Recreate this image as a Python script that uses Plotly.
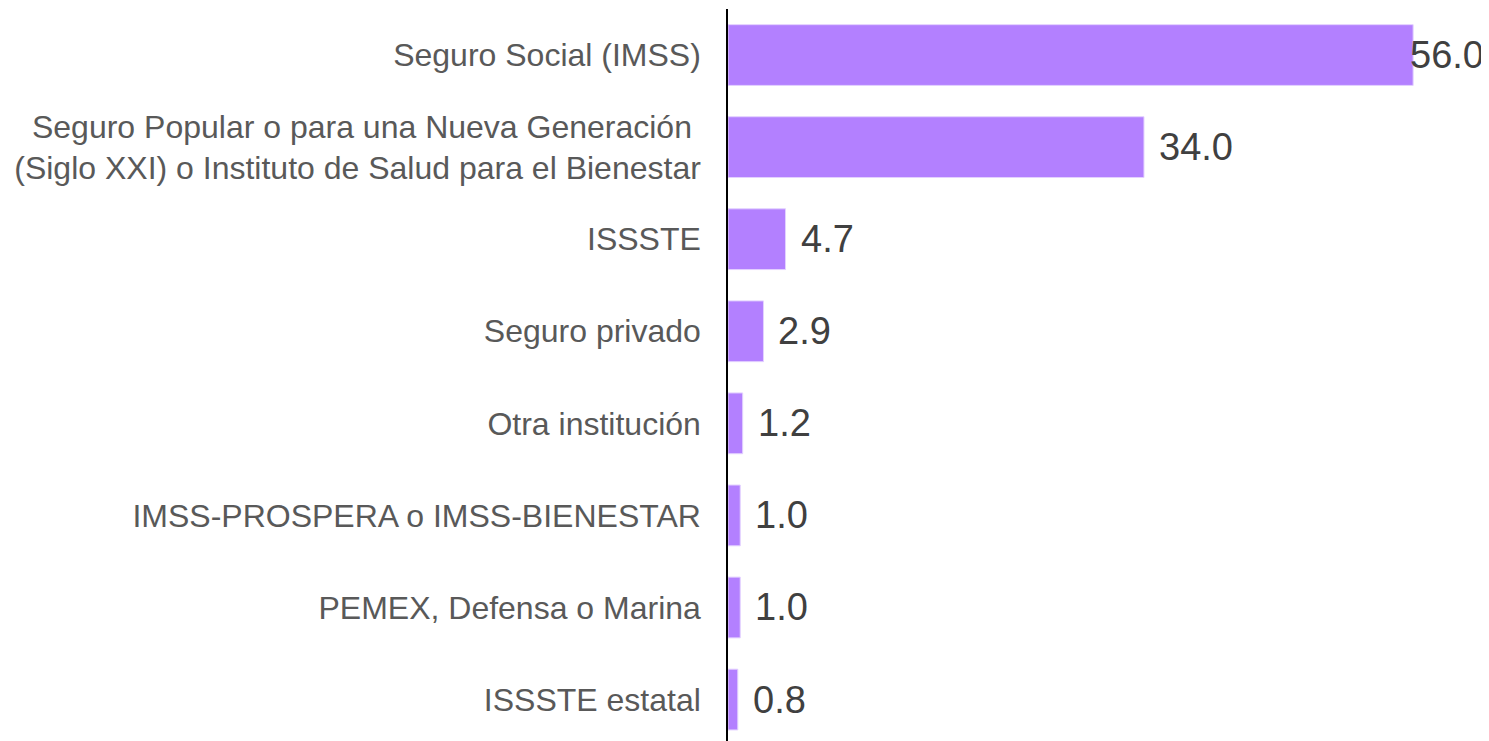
import plotly.graph_objects as go

categories = [
    "Seguro Social (IMSS)",
    "Seguro Popular o para una Nueva Generación\u00a0<br>(Siglo XXI) o Instituto de Salud para el Bienestar",
    "ISSSTE",
    "Seguro privado",
    "Otra institución",
    "IMSS-PROSPERA o IMSS-BIENESTAR",
    "PEMEX, Defensa o Marina",
    "ISSSTE estatal",
]
values = [56.0, 34.0, 4.7, 2.9, 1.2, 1.0, 1.0, 0.8]
value_labels = [f"{v:.1f}" for v in values]

# page body has an 8px margin, so the figure is drawn 8px in from top/left
W, H = 1481, 733
ML, MR, MT, MB = 720, 0, 1, 0
XMAX = 62.2
BAR_COLOR = "#B380FF"
LABEL_SIZE = 38
GAP = 16
FONT = "Liberation Sans, Arial, sans-serif"

fig = go.Figure(
    go.Bar(
        x=values,
        y=categories,
        orientation="h",
        width=0.66,
        marker=dict(color=BAR_COLOR, line=dict(color="#E3D1FF", width=1)),
        hoverinfo="skip",
    )
)

plot_w = W - ML - MR
annotations = []
for cat, v, lab in zip(categories, values, value_labels):
    end_px = v / XMAX * plot_w
    text_w = len(lab) * 0.52 * LABEL_SIZE
    if end_px + GAP + text_w > plot_w:
        annotations.append(dict(
            x=1, xref="paper", y=cat, yref="y", text=lab, showarrow=False,
            xanchor="right", yanchor="middle", xshift=-3,
            font=dict(size=LABEL_SIZE, color="#404040", family=FONT),
        ))
    else:
        annotations.append(dict(
            x=v, xref="x", y=cat, yref="y", text=lab, showarrow=False,
            xanchor="left", yanchor="middle", xshift=GAP - 3,
            font=dict(size=LABEL_SIZE, color="#404040", family=FONT),
        ))

fig.update_layout(
    width=W,
    height=H,
    margin=dict(l=ML, r=MR, t=MT, b=MB, pad=0),
    paper_bgcolor="white",
    plot_bgcolor="white",
    showlegend=False,
    font=dict(family=FONT),
    annotations=annotations,
    xaxis=dict(
        range=[0, XMAX],
        visible=False,
        showgrid=False,
        zeroline=False,
        fixedrange=True,
    ),
    yaxis=dict(
        type="category",
        categoryorder="array",
        categoryarray=categories,
        range=[7.45, -0.5],
        showgrid=False,
        zeroline=False,
        showline=True,
        linecolor="black",
        linewidth=1.5,
        ticks="",
        ticklabelstandoff=19,
        tickfont=dict(size=32, color="#595959", family=FONT),
        fixedrange=True,
    ),
)

fig.write_html("out.html")
